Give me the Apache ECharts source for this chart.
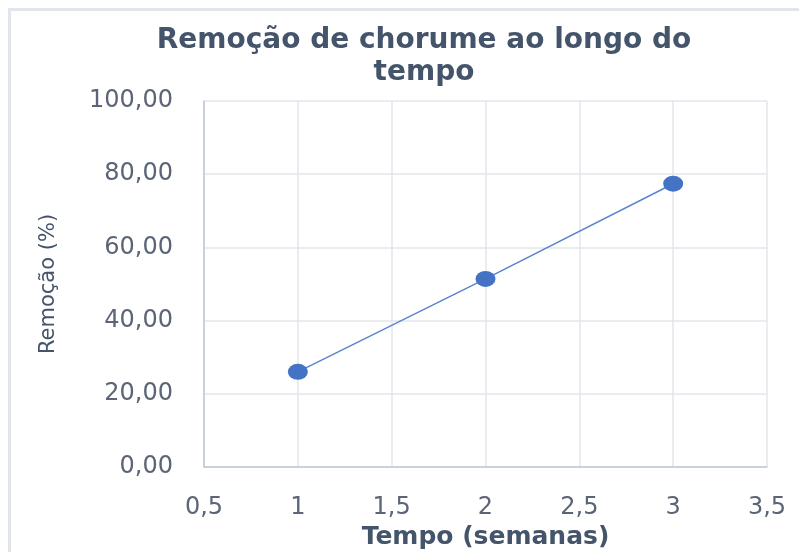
<!DOCTYPE html>
<html>
<head>
<meta charset="utf-8">
<script src="https://cdn.jsdelivr.net/npm/echarts@6/dist/echarts.min.js"></script>
<style>
html,body{margin:0;padding:0;background:#fff;}
#c{width:799px;height:552px;}
</style>
</head>
<body>
<div id="c"></div>
<script>
var titleText = 'Remoção de chorume ao longo do\ntempo';
var xName = 'Tempo (semanas)';
var yName = 'Remoção (%)';
var weeks = [1, 2, 3];
var removal = [26.0, 51.4, 77.4];

var chart = echarts.init(document.getElementById('c'));
var txt = '#5b6577';
var ff = 'DejaVu Sans';
chart.setOption({
  animation: false,
  backgroundColor: '#fff',
  graphic: [
    {type: 'rect', shape: {x: 8, y: 8, width: 791, height: 3}, style: {fill: '#e1e5ec'}},
    {type: 'rect', shape: {x: 8, y: 8, width: 3, height: 544}, style: {fill: '#e1e5ec'}}
  ],
  title: {
    text: titleText,
    left: 419,
    textAlign: 'center',
    top: 20,
    textStyle: {fontFamily: ff, fontWeight: 'bold', fontSize: 28, color: '#44546a', lineHeight: 32}
  },
  grid: {left: 204, right: 32, top: 101, bottom: 85, containLabel: false, outerBoundsMode: 'none'},
  xAxis: {
    type: 'value', min: 0.5, max: 3.5, interval: 0.5,
    name: xName, nameLocation: 'middle', nameGap: 57,
    nameTextStyle: {fontFamily: ff, fontWeight: 'bold', fontSize: 25, color: '#44546a'},
    axisLine: {show: true, lineStyle: {color: '#c0c8d5', width: 1.5}},
    axisTick: {show: false},
    axisLabel: {fontFamily: ff, fontSize: 24, color: txt, margin: 29,
      formatter: function(v){ return String(v).replace('.', ','); }},
    splitLine: {show: true, lineStyle: {color: '#e3e6ec', width: 1.5}}
  },
  yAxis: {
    type: 'value', min: 0, max: 100, interval: 20,
    name: yName, nameLocation: 'middle', nameGap: 145,
    nameTextStyle: {fontFamily: ff, fontSize: 21, color: '#44546a'},
    axisLine: {show: true, lineStyle: {color: '#c0c8d5', width: 1.5}},
    axisTick: {show: false},
    axisLabel: {fontFamily: ff, fontSize: 24, color: txt, margin: 31,
      formatter: function(v){ return v.toFixed(2).replace('.', ','); }},
    splitLine: {show: true, lineStyle: {color: '#e3e6ec', width: 1.5}}
  },
  series: [{
    type: 'line',
    data: weeks.map(function(w, i){ return [w, removal[i]]; }),
    symbol: 'circle',
    symbolSize: [20, 16],
    itemStyle: {color: '#4472c4'},
    lineStyle: {color: '#5b84d0', width: 1.5}
  }]
});
</script>
</body>
</html>
